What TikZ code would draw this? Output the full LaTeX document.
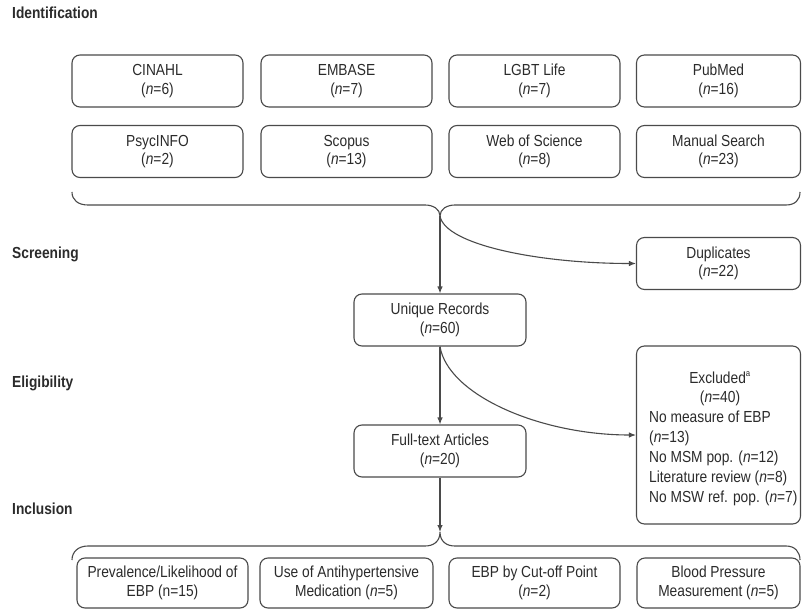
\documentclass[tikz,border=0pt]{standalone}
\usepackage{fontspec}
\setmainfont{Liberation Sans}[FakeStretch=0.86]
\usetikzlibrary{arrows.meta}
\definecolor{linec}{HTML}{4A4A4A}
\definecolor{txtc}{HTML}{2B2B2B}
\begin{document}
\begin{tikzpicture}[x=1pt,y=-1pt,
  box/.style={draw=linec, line width=1.1pt, rounded corners=8pt, align=center,
    inner sep=0pt, text=txtc, font=\fontsize{16}{18.5}\selectfont},
  sbox/.style={box, minimum width=171pt, minimum height=52pt},
  rbox/.style={box, minimum width=164pt, minimum height=52pt},
  bbox/.style={box, minimum width=171pt, minimum height=50pt},
  stage/.style={anchor=base west, inner sep=0pt, text=txtc, font=\fontsize{16}{18}\selectfont\bfseries},
  txt/.style={inner sep=0pt, text=txtc, font=\fontsize{16}{18}\selectfont},
  brace/.style={draw=linec, line width=1.1pt},
  arr/.style={draw=linec, line width=1.1pt, -{Latex[length=7pt,width=5.5pt]}}]
\useasboundingbox (0,0) rectangle (802,609);

% stage labels
\node[stage] (lid) at (12,19) {Identification};
\node[stage] (lsc) at (12,259) {Screening};
\node[stage] (lel) at (12,387) {Eligibility};
\node[stage] (lin) at (12,514) {Inclusion};

% identification boxes
\node[sbox] (cin) at (157.5,81) {CINAHL\\(\textit{n}=6)};
\node[sbox] (emb) at (346.5,81) {EMBASE\\(\textit{n}=7)};
\node[sbox] (lgb) at (534.5,81) {LGBT Life\\(\textit{n}=7)};
\node[rbox] (pub) at (718.5,81) {PubMed\\(\textit{n}=16)};
\node[sbox] (psy) at (157.5,151.5) {PsycINFO\\(\textit{n}=2)};
\node[sbox] (sco) at (346.5,151.5) {Scopus\\(\textit{n}=13)};
\node[sbox] (wos) at (534.5,151.5) {Web of Science\\(\textit{n}=8)};
\node[rbox] (man) at (718.5,151.5) {Manual Search\\(\textit{n}=23)};

% top brace
\coordinate (topc) at (440,216);
\draw[brace] (72,192) .. controls (72,200) and (78,205) .. (88,205) -- (425,205)
  .. controls (433,205) and (440,209) .. (topc)
  .. controls (440,209) and (447,205) .. (455,205) -- (786,205)
  .. controls (795,205) and (800,200) .. (800,192);

% screening / eligibility boxes
\node[box, minimum width=172pt, minimum height=52pt] (uni) at (440,320) {Unique Records\\(\textit{n}=60)};
\node[rbox] (dup) at (718.5,263.5) {Duplicates\\(\textit{n}=22)};
\node[box, minimum width=172pt, minimum height=52pt] (ful) at (440,451) {Full-text Articles\\(\textit{n}=20)};
\node[box, minimum width=164pt, minimum height=178pt] (exc) at (718.5,435) {};

% excluded text
\node[txt, anchor=base] (ex1) at (720,383) {Excluded\textsuperscript{\fontsize{9}{9}\selectfont a}};
\node[txt, anchor=base] (ex2) at (720,402) {(\textit{n}=40)};
\node[txt, anchor=base west] (ex3) at (649,422) {No measure of EBP};
\node[txt, anchor=base west] (ex4) at (649,442) {(\textit{n}=13)};
\node[txt, anchor=base west] (ex5) at (649,462) {No MSM pop. (\textit{n}=12)};
\node[txt, anchor=base west] (ex6) at (649,482) {Literature review (\textit{n}=8)};
\node[txt, anchor=base west] (ex7) at (649,502) {No MSW ref. pop. (\textit{n}=7)};

% connectors
\draw[arr] (topc) -- (uni.north);
\draw[arr] (topc) .. controls (445,245) and (540,263.5) .. (dup.west);
\draw[arr] (uni.south) -- (ful.north);
\draw[arr] (uni.south) .. controls (448,395) and (540,435) .. (exc.west);

% bottom brace
\coordinate (botc) at (440,532);
\draw[arr] (ful.south) -- (botc);
\draw[brace] (72,560) .. controls (72,552) and (78,546) .. (88,546) -- (425,546)
  .. controls (433,546) and (440,542) .. (botc)
  .. controls (440,542) and (447,546) .. (455,546) -- (786,546)
  .. controls (795,546) and (800,552) .. (800,560);

% inclusion boxes
\node[bbox] (inc1) at (162.5,583) {Prevalence/Likelihood of\\EBP (n=15)};
\node[bbox, minimum width=173pt] (inc2) at (346.5,583) {Use of Antihypertensive\\Medication (\textit{n}=5)};
\node[bbox] (inc3) at (534.5,583) {EBP by Cut-off Point\\(\textit{n}=2)};
\node[box, minimum width=163pt, minimum height=50pt] (inc4) at (718.5,583) {Blood Pressure\\Measurement (\textit{n}=5)};
\end{tikzpicture}
\end{document}
